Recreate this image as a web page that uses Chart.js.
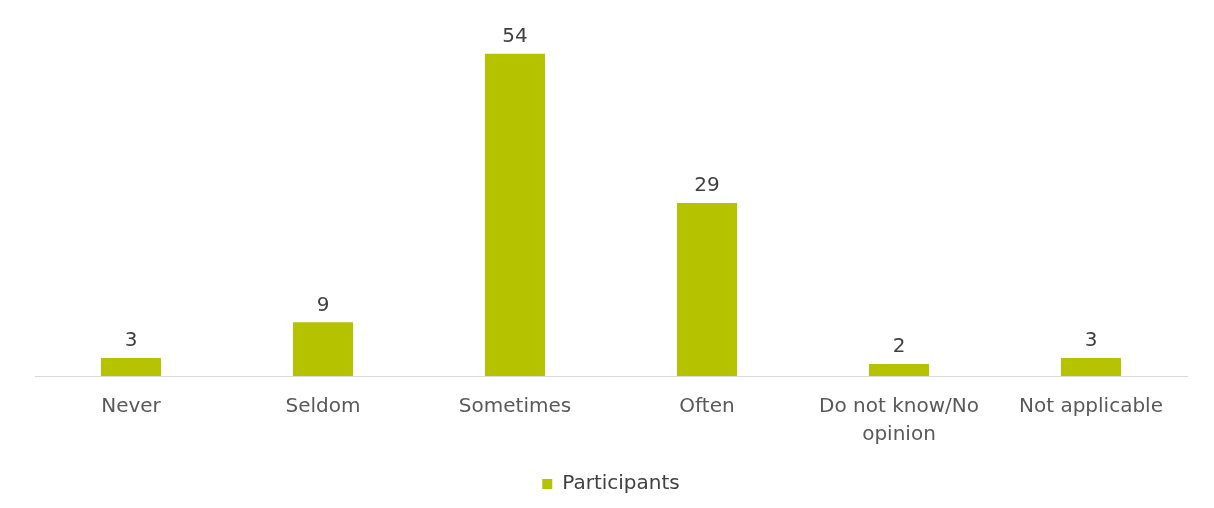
<!DOCTYPE html>
<html><head><meta charset="utf-8">
<script src="https://cdn.jsdelivr.net/npm/chart.js@4.4.1/dist/chart.umd.min.js"></script>
<style>html,body{margin:0;padding:0;background:#fff}#wrap{width:1214px;height:508px}</style>
</head><body><div id="wrap"><canvas id="c"></canvas></div>
<script>
const categories = ["Never","Seldom","Sometimes","Often",["Do not know/No","opinion"],"Not applicable"];
const participants = [3, 9, 54, 29, 2, 3];
const seriesName = "Participants";

const valueLabels = {
  id: 'valueLabels',
  afterDatasetsDraw(chart) {
    const ctx = chart.ctx;
    const meta = chart.getDatasetMeta(0);
    ctx.save();
    ctx.font = '20px "DejaVu Sans", Verdana, sans-serif';
    ctx.fillStyle = '#404040';
    ctx.textAlign = 'center';
    ctx.textBaseline = 'bottom';
    meta.data.forEach((el, i) => {
      ctx.fillText(String(chart.data.datasets[0].data[i]), el.x, el.y - 7);
    });
    ctx.restore();
  }
};

new Chart(document.getElementById('c'), {
  type: 'bar',
  data: {
    labels: categories,
    datasets: [{
      label: seriesName,
      data: participants,
      backgroundColor: '#B5C200',
      borderWidth: 0,
      categoryPercentage: 1,
      barPercentage: 0.3125
    }]
  },
  options: {
    responsive: true,
    maintainAspectRatio: false,
    animation: false,
    layout: { padding: { left: 35, right: 27, top: 18, bottom: 4 } },
    scales: {
      x: {
        grid: { display: false, drawTicks: false },
        border: { display: true, color: '#D9D9D9', width: 1 },
        ticks: { color: '#595959', font: { family: '"DejaVu Sans", Verdana, sans-serif', size: 20, lineHeight: 1.4 }, padding: 17, maxRotation: 0, autoSkip: false }
      },
      y: {
        display: false,
        min: 0, max: 60
      }
    },
    plugins: {
      legend: {
        position: 'bottom',
        labels: { boxWidth: 10, boxHeight: 10, color: '#404040', padding: 8, font: { family: '"DejaVu Sans", Verdana, sans-serif', size: 20 } }
      },
      tooltip: { enabled: false }
    }
  },
  plugins: [valueLabels]
});
</script></body></html>
